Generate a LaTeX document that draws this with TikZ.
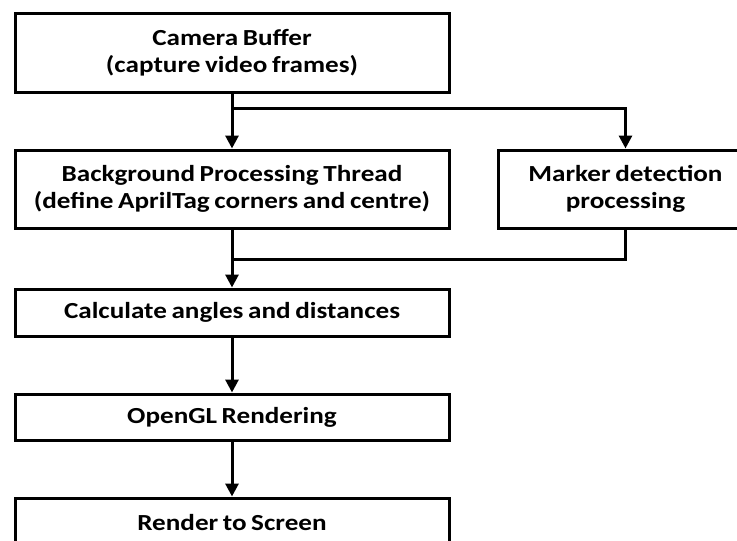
\documentclass[tikz,border=0pt]{standalone}
\usepackage{fontspec}
\setmainfont{Carlito}[FakeStretch=1.18, WordSpace=0.75]
\usetikzlibrary{arrows.meta,positioning,calc}

\begin{document}
\begin{tikzpicture}[x=1pt, y=1pt, font=\bfseries\fontsize{23}{27}\selectfont, node distance=55pt and 46pt,
  box/.style={draw, line width=3pt, align=center, inner sep=0pt, minimum width=434pt},
  arr/.style={-{Triangle[width=13pt, length=13pt]}, line width=3pt},
  link/.style={line width=3pt}]
\useasboundingbox (0,0) rectangle (737,-541);
\node[box, minimum height=79pt, anchor=north west] (cam) at (13.5,-11.5) {Camera Buffer\\(capture video frames)};
\node[box, minimum height=78pt, below=of cam] (bg) {Background Processing Thread\\(define AprilTag corners and centre)};
\node[box, minimum height=78pt, minimum width=255pt, right=of bg] (mark) {Marker detection\\processing};
\node[box, minimum height=47pt, below=58pt of bg] (calc) {Calculate angles and distances};
\node[box, minimum height=46pt, below=of calc] (ogl) {OpenGL Rendering};
\node[box, minimum height=49pt, below=of ogl] (rend) {Render to Screen};
\coordinate (split) at ($(cam.south)!0.28!(bg.north)$);
\coordinate (merge) at ($(bg.south)!0.52!(calc.north)$);
\draw[arr] (cam) -- (bg);
\draw[arr] (split) -| (mark.north);
\draw[link] (mark.south) |- (merge);
\draw[arr] (bg) -- (calc);
\draw[arr] (calc) -- (ogl);
\draw[arr] (ogl) -- (rend);
\end{tikzpicture}
\end{document}
